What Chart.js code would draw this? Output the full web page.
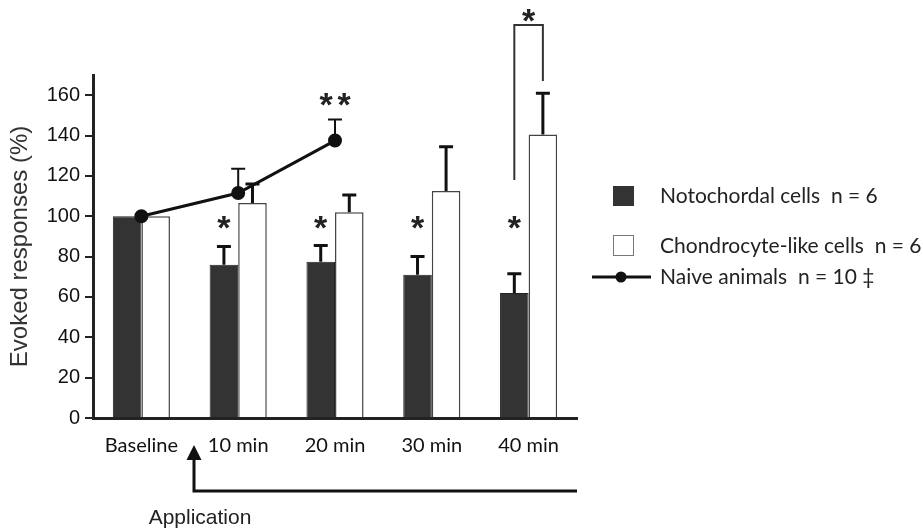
<!DOCTYPE html>
<html>
<head>
<meta charset="utf-8">
<script src="https://cdn.jsdelivr.net/npm/chart.js@4.4.0/dist/chart.umd.min.js"></script>
<style>
  html, body { margin: 0; padding: 0; background: #fff; }
</style>
</head>
<body>
<canvas id="chart" width="923" height="531"></canvas>
<script>
const categories = ["Baseline", "10 min", "20 min", "30 min", "40 min"];
const notochordal = [100, 76, 77.5, 71, 62];
const notochordalErr = [0, 9, 8, 9, 9.5];
const chondrocyte = [100, 106.5, 102, 112.5, 140.5];
const chondrocyteErr = [0, 9.5, 8.5, 22, 20.5];
const naive = [100, 111.5, 137.5, null, null];
const naiveErr = [0, 12, 10.5, null, null];
const sigLabels = ["", "*", "*", "*", "*"];
const yTicks = [0, 20, 40, 60, 80, 100, 120, 140, 160];

const DARK = "#333333";

// error bars, stars, bracket, legend and the application arrow
const extras = {
  id: "extras",
  afterDatasetsDraw(chart) {
    const ctx = chart.ctx;
    const ys = chart.scales.y;
    const area = chart.chartArea;

    // error bars (upper side only)
    chart.data.datasets.forEach((ds, di) => {
      if (!ds.errors) return;
      const meta = chart.getDatasetMeta(di);
      meta.data.forEach((el, i) => {
        const v = ds.data[i], e = ds.errors[i];
        if (v == null || !e) return;
        const y0 = ys.getPixelForValue(v);
        const y1 = ys.getPixelForValue(v + e);
        ctx.save();
        ctx.strokeStyle = "#111";
        ctx.lineWidth = ds.type === "line" ? 2 : 3;
        ctx.beginPath();
        ctx.moveTo(el.x, y0);
        ctx.lineTo(el.x, y1);
        ctx.moveTo(el.x - 7, y1);
        ctx.lineTo(el.x + 7, y1);
        ctx.stroke();
        ctx.restore();
      });
    });

    const star = (txt, x, yc) => {
      ctx.save();
      ctx.font = "bold 34px 'Liberation Sans'";
      ctx.fillStyle = "#222";
      ctx.textAlign = "center";
      ctx.textBaseline = "alphabetic";
      const m = ctx.measureText(txt);
      ctx.fillText(txt, x, yc + (m.actualBoundingBoxAscent - m.actualBoundingBoxDescent) / 2);
      ctx.restore();
    };

    // stars over notochordal bars
    const noto = chart.getDatasetMeta(1).data;
    const chon = chart.getDatasetMeta(2).data;
    sigLabels.forEach((s, i) => {
      if (s) star(s, noto[i].x, ys.getPixelForValue(97));
    });
    // ** over naive 20 min
    const nv = chart.getDatasetMeta(0).data;
    star("*", nv[2].x - 9, ys.getPixelForValue(158));
    star("*", nv[2].x + 9, ys.getPixelForValue(158));

    // bracket at 40 min
    const xl = noto[4].x, xr = chon[4].x;
    const yt = 25;
    ctx.save();
    ctx.strokeStyle = "#333";
    ctx.lineWidth = 2;
    ctx.beginPath();
    ctx.moveTo(xl, ys.getPixelForValue(118));
    ctx.lineTo(xl, yt);
    ctx.lineTo(xr, yt);
    ctx.lineTo(xr, ys.getPixelForValue(167));
    ctx.stroke();
    ctx.restore();
    star("*", (xl + xr) / 2, 15);

    // application arrow
    const ax = 194, ay = 491;
    ctx.save();
    ctx.strokeStyle = "#111";
    ctx.fillStyle = "#111";
    ctx.lineWidth = 3;
    ctx.beginPath();
    ctx.moveTo(ax, 458);
    ctx.lineTo(ax, ay);
    ctx.lineTo(area.right, ay);
    ctx.stroke();
    ctx.beginPath();
    ctx.moveTo(ax, 445);
    ctx.lineTo(ax - 7.5, 460);
    ctx.lineTo(ax + 7.5, 460);
    ctx.closePath();
    ctx.fill();
    ctx.font = "21px 'Liberation Sans'";
    ctx.fillStyle = "#222";
    ctx.textAlign = "center";
    ctx.textBaseline = "middle";
    ctx.fillText("Application", 200, 518);
    ctx.restore();

    // legend
    ctx.save();
    ctx.font = "21px Lato";
    ctx.textBaseline = "middle";
    ctx.textAlign = "left";
    ctx.fillStyle = DARK;
    ctx.fillRect(613, 186, 21, 20);
    ctx.fillStyle = "#222";
    ctx.fillText("Notochordal cells  n = 6", 660, 196);
    ctx.strokeStyle = "#777";
    ctx.lineWidth = 1;
    ctx.strokeRect(613.5, 235.5, 20, 20);
    ctx.fillText("Chondrocyte-like cells  n = 6", 660, 246);
    ctx.strokeStyle = "#111";
    ctx.lineWidth = 3;
    ctx.beginPath();
    ctx.moveTo(592, 277);
    ctx.lineTo(651, 277);
    ctx.stroke();
    ctx.beginPath();
    ctx.arc(621, 277, 5.5, 0, Math.PI * 2);
    ctx.fillStyle = "#111";
    ctx.fill();
    ctx.fillStyle = "#222";
    ctx.fillText("Naive animals  n = 10 \u2021", 660, 277);
    ctx.restore();
  }
};

new Chart(document.getElementById("chart"), {
  type: "bar",
  data: {
    labels: categories,
    datasets: [
      {
        type: "line",
        label: "Naive animals",
        data: naive,
        errors: naiveErr,
        borderColor: "#111",
        borderWidth: 3,
        pointRadius: 5.5,
        pointBackgroundColor: "#111",
        pointBorderColor: "#111",
        spanGaps: false,
        order: 0
      },
      {
        label: "Notochordal cells",
        data: notochordal,
        errors: notochordalErr,
        backgroundColor: DARK,
        borderColor: "#222",
        borderWidth: 1,
        order: 1
      },
      {
        label: "Chondrocyte-like cells",
        data: chondrocyte,
        errors: chondrocyteErr,
        backgroundColor: "#fff",
        borderColor: "#444",
        borderWidth: 1.5,
        order: 1
      }
    ]
  },
  options: {
    responsive: false,
    animation: false,
    layout: { padding: { left: 0, right: 346, top: 75, bottom: 0 } },
    datasets: { bar: { barPercentage: 1, categoryPercentage: 0.59 } },
    plugins: { legend: { display: false }, tooltip: { enabled: false } },
    scales: {
      x: {
        grid: { display: false },
        border: { display: true, color: "#222", width: 3 },
        ticks: { color: "#111", font: { family: "Lato", size: 20 }, padding: 8 },
        afterFit: (s) => { s.height = 113; }
      },
      y: {
        min: 0,
        max: 170,
        afterBuildTicks: (a) => { a.ticks = yTicks.map((v) => ({ value: v })); },
        ticks: { color: "#111", font: { family: "Liberation Sans", size: 20 }, padding: 5 },
        grid: { display: true, drawOnChartArea: false, drawTicks: true, tickLength: 8, color: "#222", lineWidth: 2 },
        border: { display: true, color: "#222", width: 3 },
        title: {
          display: true,
          text: "Evoked responses (%)",
          color: "#333",
          font: { family: "Liberation Sans", size: 24 },
          padding: { top: 6, bottom: 0 }
        },
        afterFit: (s) => { s.width = 93; }
      }
    }
  },
  plugins: [extras]
});
</script>
</body>
</html>
